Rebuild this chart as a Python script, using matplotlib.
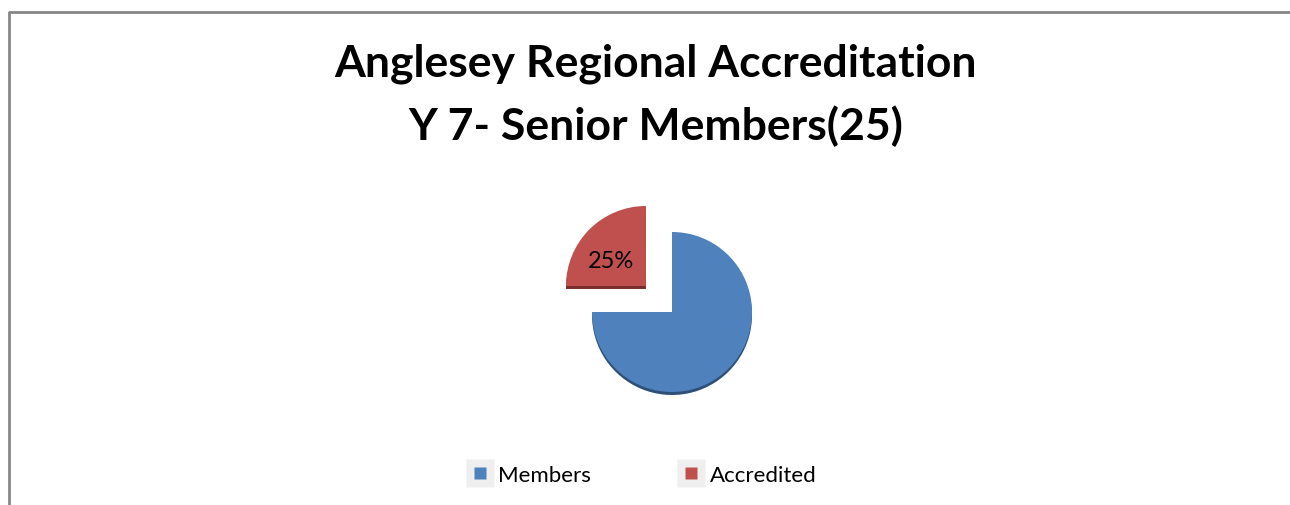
import matplotlib
matplotlib.use("Agg")
import matplotlib.pyplot as plt
from matplotlib.lines import Line2D
from matplotlib.legend_handler import HandlerTuple

title_lines = ["Anglesey Regional Accreditation", "Y 7- Senior Members(25)"]
categories = ["Members", "Accredited"]
values = [75, 25]
colors = ["#4F81BD", "#C0504D"]
shadow_colors = ["#2E4F78", "#7A2E2C"]

W, H = 1290, 506
fig = plt.figure(figsize=(W / 100, H / 100), dpi=100)
ax = fig.add_axes([0, 0, 1, 1])

cx, cy, r = 672, H - 313, 80
explode = [0, 0.46 * r]

# shadow (3D depth)
ax.pie(values, colors=shadow_colors, startangle=90, counterclock=False,
       explode=explode, center=(cx, cy - 3), radius=r,
       wedgeprops=dict(linewidth=0), frame=True)
def fmt(p):
    return f"{p:.0f}%" if p < 50 else ""
_, _, autotexts = ax.pie(values, colors=colors, startangle=90, counterclock=False,
       explode=explode, center=(cx, cy), radius=r, autopct=fmt, pctdistance=0.45,
       wedgeprops=dict(linewidth=0), textprops=dict(fontsize=17, family="Lato", color="black"),
       frame=True)
for t in autotexts:
    x, y = t.get_position()
    t.set_position((x - 10, y))
ax.set_xlim(0, W)
ax.set_ylim(0, H)
ax.set_aspect("equal")
ax.axis("off")

fig.text(0.508, 1 - 64 / H, title_lines[0], ha="center", va="center",
         fontsize=32, fontweight="bold", family="Lato")
fig.text(0.508, 1 - 126 / H, title_lines[1], ha="center", va="center",
         fontsize=32, fontweight="bold", family="Lato")

# border
ax.plot([8.5, 8.5, W], [0, H - 12.5, H - 12.5], color="#868686", lw=2, solid_capstyle="butt")

handles = []
for c in colors:
    bg = Line2D([], [], marker="s", linestyle="none", markersize=19.5, markerfacecolor="#EFEFEF",
                markeredgecolor="none")
    fg = Line2D([], [], marker="s", linestyle="none", markersize=8.6, markerfacecolor=c,
                markeredgecolor="none")
    handles.append((bg, fg))
fig.legend(handles, categories, loc="center", bbox_to_anchor=(0.5 - 4 / W, 1 - 476 / H), ncol=2,
           frameon=False, prop=dict(family="Lato", size=16), columnspacing=3.9,
           handlelength=1.25, handletextpad=0.2,
           handler_map={tuple: HandlerTuple(ndivide=1, pad=0)})

fig.savefig("out.png", dpi=100)
